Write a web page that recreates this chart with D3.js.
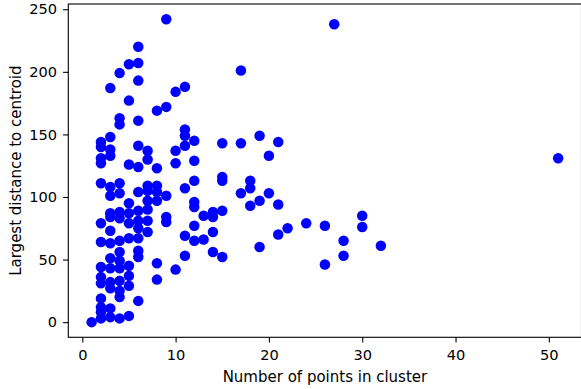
<!DOCTYPE html>
<html>
<head>
<meta charset="utf-8">
<script src="https://cdn.jsdelivr.net/npm/d3@7"></script>
<style>
body { margin: 0; background: #fff; }
svg { display: block; font-family: "DejaVu Sans", sans-serif; }
.axis text { font-size: 14.6px; fill: #000; font-family: "DejaVu Sans", sans-serif; }
.axis path, .axis line { stroke: #000; stroke-width: 1.1; }
</style>
</head>
<body>
<svg></svg>
<script>
// cluster size (x) and largest distance to centroid (y)
var clusterSizes = [
  1,
  2,2,2,2,2,2,2,2,2,2,2,2,2,2,
  3,3,3,3,3,3,3,3,3,3,3,3,3,3,3,3,
  4,4,4,4,4,4,4,4,4,4,4,4,4,4,4,
  5,5,5,5,5,5,5,5,5,5,5,
  6,6,6,6,6,6,6,6,6,6,6,6,6,6,
  7,7,7,7,7,7,7,7,
  8,8,8,8,8,8,8,
  9,9,9,9,9,
  10,10,10,10,
  11,11,11,11,11,11,11,
  12,12,12,12,12,12,12,
  13,13,
  14,14,14,14,
  15,15,15,15,15,
  17,17,17,
  18,18,18,
  19,19,19,
  20,20,
  21,21,21,
  22,24,26,26,27,28,28,30,30,32,51
]
var maxDistances = [
  0,
  144,140,131,127,111,79,64,44,36,31,19,12,8,3,
  187,148,138,133,108,101,87,84,73,63,51,43,32,27,11,4,
  199,163,158,111,103,88,83,65,56,49,43,33,25,20,3,
  206,177,126,95,87,79,67,45,37,29,5,
  220,207,193,161,141,124,104,89,81,75,67,57,52,17,
  137,130,109,105,97,90,81,72,
  169,123,109,104,97,47,34,
  242,172,101,84,80,
  184,137,127,42,
  188,154,149,141,107,69,53,
  145,129,113,96,92,77,65,
  85,66,
  88,84,72,56,
  143,116,113,89,52,
  201,143,103,
  113,107,93,
  149,97,60,
  133,103,
  144,94,70,
  75,79,77,46,238,65,53,85,76,61,131
]
var xTicks = [0,10,20,30,40,50]
var yTicks = [0,50,100,150,200,250]

var screen = {width:581,height:389}
var margins = {top:4,left:68.3}
var width = 513.2
var height = 333.3

var svg = d3.select("svg")
    .attr("width",screen.width)
    .attr("height",screen.height)

var graph = svg.append("g")
    .attr("transform","translate("+margins.left+","+margins.top+")")

var xScale = d3.scaleLinear().domain([-1.5,53.5]).range([0,width])
var yScale = d3.scaleLinear().domain([-12.1,254.2]).range([height,0])

// points
graph.append("g")
    .selectAll("circle")
    .data(clusterSizes)
    .enter()
    .append("circle")
    .attr("cx",function(d){ return xScale(d) })
    .attr("cy",function(d,i){ return yScale(maxDistances[i]) })
    .attr("r",5.25)
    .attr("fill","#0000ff")

// frame
graph.append("rect")
    .attr("width",width)
    .attr("height",height)
    .attr("fill","none")
    .attr("stroke","#000")
    .attr("stroke-width",1.1)

var xAxis = d3.axisBottom(xScale).tickValues(xTicks).tickSize(5.25).tickPadding(7).tickSizeOuter(0)
var yAxis = d3.axisLeft(yScale).tickValues(yTicks).tickSize(5.25).tickPadding(6).tickSizeOuter(0)

graph.append("g")
    .attr("class","axis")
    .attr("transform","translate(0,"+height+")")
    .call(xAxis)
    .call(function(g){ g.select(".domain").remove() })

graph.append("g")
    .attr("class","axis")
    .call(yAxis)
    .call(function(g){ g.select(".domain").remove() })

// axis titles, centred on the plot area
svg.append("text")
    .attr("x",margins.left+width/2)
    .attr("y",381.7)
    .attr("text-anchor","middle")
    .style("font-size","15px")
    .text("Number of points in cluster")

svg.append("text")
    .attr("transform","translate(20.7,"+(margins.top+height/2)+") rotate(-90)")
    .attr("text-anchor","middle")
    .style("font-size","15px")
    .text("Largest distance to centroid")
</script>
</body>
</html>
